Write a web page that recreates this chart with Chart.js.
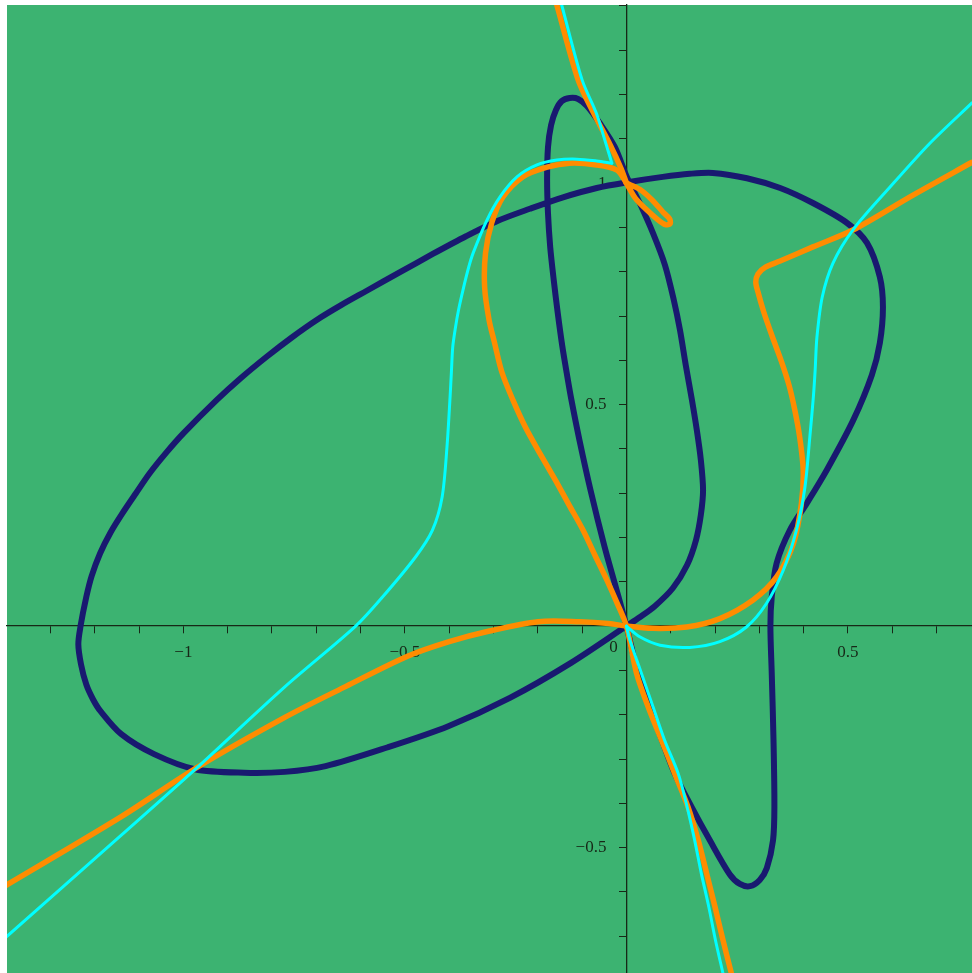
<!DOCTYPE html>
<html>
<head>
<meta charset="utf-8">
<script src="https://cdn.jsdelivr.net/npm/chart.js@4/dist/chart.umd.min.js"></script>
<style>
html,body{margin:0;padding:0;background:#ffffff;}
#wrap{width:972px;height:973px;}
</style>
</head>
<body>
<div id="wrap"><canvas id="c" width="972" height="973"></canvas></div>
<script>
// ---- axis ranges and tick labels ----
const xRange = [-1.398, 0.780];
const yRange = [-0.783, 1.402];
const tickStep = 0.1;
const xLabelValues = [-1, -0.5, 0.5];
const xLabelTexts  = ['\u22121', '\u22120.5', '0.5'];
const yLabelValues = [-0.5, 0.5, 1];
const yLabelTexts  = ['\u22120.5', '0.5', '1'];
const originLabel = '0';

// ---- navy curve (closed, passes through origin and (0,1) twice) ----
const navyCurve = [
  [0,0],[-0.125,-0.083],[-0.263,-0.162],[-0.402,-0.226],[-0.540,-0.274],[-0.679,-0.316],
  [-0.771,-0.329],[-0.863,-0.331],[-0.974,-0.323],[-1.066,-0.289],[-1.140,-0.244],[-1.187,-0.192],
  [-1.204,-0.165],[-1.219,-0.132],[-1.231,-0.086],[-1.237,-0.041],[-1.232,0.000],[-1.219,0.066],
  [-1.207,0.113],[-1.188,0.164],[-1.164,0.212],[-1.138,0.254],[-1.107,0.300],[-1.076,0.345],
  [-1.039,0.391],[-1.000,0.435],[-0.925,0.510],[-0.870,0.560],[-0.812,0.608],[-0.756,0.651],
  [-0.699,0.691],[-0.643,0.725],[-0.586,0.757],[-0.511,0.799],[-0.437,0.840],
  [-0.362,0.880],[-0.290,0.915],[-0.218,0.942],[-0.143,0.968],[-0.067,0.989],[0.003,1.002],
  [0.082,1.014],[0.143,1.021],[0.195,1.023],[0.272,1.011],[0.347,0.989],[0.421,0.955],
  [0.498,0.910],[0.543,0.865],[0.572,0.788],[0.579,0.720],[0.572,0.639],[0.554,0.567],
  [0.512,0.465],[0.452,0.352],[0.407,0.277],[0.369,0.217],[0.339,0.142],[0.328,0.066],
  [0.325,0.000],[0.328,-0.106],[0.332,-0.257],[0.334,-0.408],[0.331,-0.483],[0.317,-0.546],
  [0.301,-0.573],[0.279,-0.587],[0.256,-0.582],[0.233,-0.560],[0.188,-0.483],[0.147,-0.408],
  [0.109,-0.333],[0.080,-0.257],[0.053,-0.183],[0.026,-0.106],[0,0],
  [-0.022,0.081],[-0.049,0.178],[-0.081,0.307],[-0.106,0.420],[-0.124,0.510],[-0.134,0.567],
  [-0.145,0.634],[-0.155,0.707],[-0.164,0.781],[-0.172,0.856],[-0.177,0.932],[-0.179,1.007],
  [-0.177,1.081],[-0.170,1.131],[-0.159,1.165],[-0.146,1.185],[-0.128,1.192],[-0.109,1.190],
  [-0.089,1.174],[-0.060,1.135],[-0.026,1.081],[0.001,1.014],[0.030,0.955],[0.060,0.887],
  [0.087,0.815],[0.107,0.736],[0.121,0.668],[0.134,0.589],[0.148,0.510],[0.159,0.442],
  [0.168,0.375],[0.173,0.307],[0.168,0.251],[0.157,0.194],[0.137,0.138],[0.105,0.086],
  [0.064,0.045],[0.030,0.020],[0,0]
];

// ---- orange curve ----
const orangeLower = [
  [-1.400,-0.585],[-1.140,-0.430],[-0.974,-0.322],[-0.771,-0.206],[-0.633,-0.136],[-0.494,-0.068],
  [-0.400,-0.035],[-0.309,-0.011],[-0.199,0.010],[-0.106,0.010],[-0.040,0.006],[0,0],
  [0.060,-0.005],[0.136,-0.002],[0.211,0.017],[0.286,0.059],[0.339,0.111],[0.377,0.187],
  [0.395,0.277],[0.399,0.352],[0.391,0.427],[0.380,0.488],[0.367,0.544],[0.349,0.600],
  [0.328,0.657],[0.310,0.709],[0.297,0.754],[0.292,0.777],[0.297,0.795],[0.313,0.810],
  [0.347,0.824],[0.421,0.856],[0.511,0.894],[0.647,0.973],[0.780,1.047]
];
const orangeTop = [
  [-0.157,1.402],[-0.109,1.233],[-0.074,1.158],[-0.036,1.085],[-0.012,1.033],[0,1.0]
];
const orangeLoop = [
  [0,1.0],[0.020,0.966],[0.042,0.943],[0.070,0.918],[0.088,0.906],[0.099,0.909],
  [0.097,0.920],[0.083,0.934],[0.058,0.962],[0.030,0.986],[0,1.0]
];
const orangeArc = [
  [0,1.0],[-0.021,1.029],[-0.067,1.041],[-0.128,1.045],[-0.179,1.036],[-0.234,1.014],
  [-0.279,0.968],[-0.304,0.910],[-0.318,0.842],[-0.320,0.765],[-0.310,0.691],[-0.298,0.641],
  [-0.281,0.573],[-0.256,0.510],[-0.227,0.447],[-0.193,0.386],[-0.159,0.327],[-0.128,0.271],
  [-0.098,0.217],[-0.071,0.160],[-0.044,0.104],[-0.021,0.052],[0,0],
  [0.023,-0.107],[0.049,-0.182],[0.079,-0.257],[0.109,-0.333],[0.139,-0.408],[0.162,-0.483],
  [0.181,-0.558],[0.200,-0.634],[0.218,-0.709],[0.237,-0.784]
];

// ---- cyan curve ----
const cyanLeft = [
  [-1.400,-0.702],[-1.140,-0.472],[-0.974,-0.324],[-0.771,-0.137],[-0.611,0.000],[-0.551,0.065],
  [-0.476,0.156],[-0.438,0.216],[-0.416,0.291],[-0.405,0.404],[-0.398,0.517],[-0.395,0.573],
  [-0.392,0.630],[-0.386,0.673],[-0.379,0.713],[-0.369,0.758],[-0.356,0.810],[-0.346,0.842],
  [-0.315,0.916],[-0.286,0.968],[-0.247,1.014],[-0.202,1.041],[-0.157,1.052],[-0.112,1.054],
  [-0.067,1.050],[-0.033,1.045]
];
const cyanTop = [
  [-0.033,1.045],[-0.045,1.085],[-0.068,1.158],[-0.100,1.233],[-0.146,1.402]
];
const cyanLower = [
  [0.218,-0.784],[0.201,-0.709],[0.186,-0.634],[0.169,-0.558],[0.154,-0.483],[0.137,-0.408],
  [0.117,-0.333],[0.086,-0.257],[0.060,-0.182],[0.034,-0.107],[0.008,-0.032],[0,0]
];
const cyanRight = [
  [0,0],[0.030,-0.024],[0.076,-0.043],[0.143,-0.048],[0.211,-0.035],[0.271,-0.002],
  [0.316,0.051],[0.354,0.126],[0.384,0.217],[0.403,0.314],[0.414,0.427],[0.422,0.518],
  [0.426,0.578],[0.430,0.652],[0.442,0.743],[0.466,0.819],[0.511,0.894],[0.595,0.991],
  [0.685,1.090],[0.780,1.181]
];

// ---- styles ----
const BG_GREEN = 'rgb(60,179,113)';
const NAVY = 'rgb(25,25,112)';
const ORANGE = 'rgb(255,140,0)';
const CYAN = 'rgb(0,255,255)';
const AXIS = '#172817';
const FONT = {family: "'Liberation Serif', 'DejaVu Serif', serif", size: 17};
const Y_LABEL_GAP = 20;

function pts(arr){ return arr.map(p => ({x: p[0], y: p[1]})); }
function ds(arr, color, width, order){
  return {data: pts(arr), borderColor: color, backgroundColor: color, borderWidth: width,
          showLine: true, pointRadius: 0, pointHoverRadius: 0, tension: 0.3, fill: false,
          order: order, borderCapStyle: 'round', borderJoinStyle: 'round'};
}
function labelFor(values, texts){
  return function(v){
    const i = values.findIndex(t => Math.abs(t - v) < 1e-6);
    return i >= 0 ? texts[i] : '';
  };
}
function noSpace(isX){
  return function(s){
    if (isX) s.height = 0; else s.width = 0;
    s.paddingTop = 0; s.paddingBottom = 0; s.paddingLeft = 0; s.paddingRight = 0;
  };
}

const bgPlugin = {
  id: 'bg',
  beforeDraw(chart){
    const {ctx, chartArea: a} = chart;
    ctx.save();
    ctx.fillStyle = BG_GREEN;
    ctx.fillRect(a.left, a.top, a.right - a.left, a.bottom - a.top);
    ctx.restore();
    // move y tick labels left of the tick marks
    const items = chart.scales.y.getLabelItems(a);
    items.forEach(it => {
      if (!it._shifted) { it.options.translation[0] -= Y_LABEL_GAP; it._shifted = true; }
    });
  },
  afterDraw(chart){
    const {ctx} = chart;
    const px = chart.scales.x.getPixelForValue(0);
    const py = chart.scales.y.getPixelForValue(0);
    ctx.save();
    ctx.fillStyle = AXIS;
    ctx.font = FONT.size + 'px ' + FONT.family;
    ctx.textAlign = 'center';
    ctx.textBaseline = 'middle';
    ctx.fillText(originLabel, px - 13, py + 21);
    ctx.restore();
  }
};

new Chart(document.getElementById('c'), {
  type: 'scatter',
  data: {
    datasets: [
      ds(cyanLeft, CYAN, 3, 1), ds(cyanTop, CYAN, 3, 1), ds(cyanLower, CYAN, 3, 1), ds(cyanRight, CYAN, 3, 1),
      ds(orangeLower, ORANGE, 5.5, 2), ds(orangeTop, ORANGE, 5.5, 2), ds(orangeLoop, ORANGE, 5.5, 2), ds(orangeArc, ORANGE, 5.5, 2),
      ds(navyCurve, NAVY, 6, 3)
    ]
  },
  options: {
    responsive: false,
    devicePixelRatio: 1,
    animation: false,
    layout: {autoPadding: false, padding: {left: 7, top: 5, right: 0, bottom: 0}},
    plugins: {legend: {display: false}, tooltip: {enabled: false}},
    scales: {
      x: {
        type: 'linear', min: xRange[0], max: xRange[1], position: {y: 0},
        afterFit: noSpace(true),
        border: {display: true, color: AXIS, width: 1.3},
        grid: {drawOnChartArea: false, drawTicks: true, tickLength: 7, color: AXIS, lineWidth: 1},
        ticks: {stepSize: tickStep, includeBounds: false, autoSkip: false, maxRotation: 0,
                color: AXIS, font: FONT, padding: 9, callback: labelFor(xLabelValues, xLabelTexts)}
      },
      y: {
        type: 'linear', min: yRange[0], max: yRange[1], position: {x: 0},
        afterFit: noSpace(false),
        border: {display: true, color: AXIS, width: 1.3},
        grid: {drawOnChartArea: false, drawTicks: true, tickLength: 7, color: AXIS, lineWidth: 1},
        ticks: {stepSize: tickStep, includeBounds: false, autoSkip: false,
                color: AXIS, font: FONT, padding: 13, callback: labelFor(yLabelValues, yLabelTexts)}
      }
    }
  },
  plugins: [bgPlugin]
});
</script>
</body>
</html>
